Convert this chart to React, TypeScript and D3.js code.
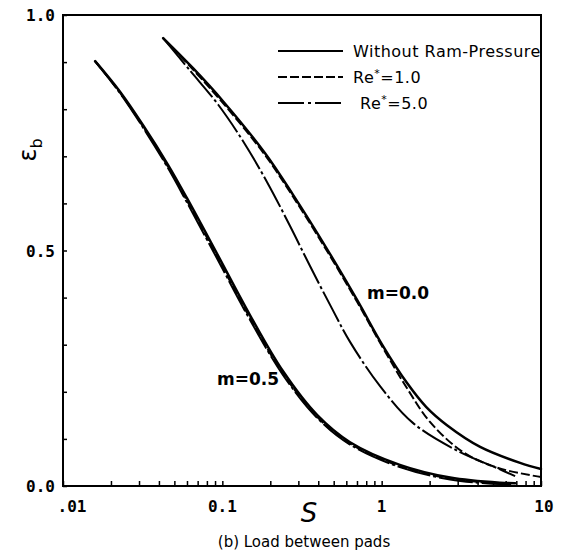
import React, { useRef, useEffect } from 'react';
import * as d3 from 'd3';

// [S, eps_b]
const m0NoRam: [number, number][] = [
  [0.0425, 0.951], [0.0655, 0.887], [0.101, 0.817], [0.185, 0.707], [0.278, 0.618],
  [0.454, 0.503], [0.701, 0.395], [1.02, 0.297], [1.44, 0.219], [1.9, 0.168],
  [2.57, 0.129], [4.15, 0.083], [7.39, 0.049], [10, 0.036],
];
const m0Re1: [number, number][] = [
  [0.0425, 0.951], [0.0655, 0.884], [0.101, 0.813], [0.185, 0.703], [0.278, 0.614],
  [0.454, 0.499], [0.701, 0.391], [1.02, 0.293], [1.44, 0.208], [2.01, 0.136],
  [3.24, 0.072], [5.30, 0.039], [10, 0.019],
];
const m0Re5: [number, number][] = [
  [0.0425, 0.951], [0.0627, 0.882], [0.094, 0.810], [0.135, 0.732], [0.191, 0.645],
  [0.266, 0.552], [0.355, 0.467], [0.489, 0.376], [0.633, 0.306], [0.977, 0.212],
  [1.57, 0.134], [3.02, 0.074], [5.30, 0.038], [6.88, 0.021],
];
const m05NoRam: [number, number][] = [
  [0.0159, 0.902], [0.0228, 0.837], [0.0318, 0.766], [0.0456, 0.682], [0.06, 0.611],
  [0.0927, 0.493], [0.149, 0.363], [0.240, 0.244], [0.393, 0.151], [0.633, 0.093],
  [1.30, 0.045], [2.69, 0.018], [5.54, 0.007], [6.88, 0.006],
];
const m05Re1: [number, number][] = [
  [0.0159, 0.902], [0.0228, 0.835], [0.0318, 0.763], [0.0456, 0.678], [0.06, 0.606],
  [0.0927, 0.487], [0.149, 0.357], [0.240, 0.239], [0.393, 0.147], [0.633, 0.090],
  [1.30, 0.042], [2.69, 0.016], [5.54, 0.005], [6.5, 0.004],
];
const m05Re5: [number, number][] = [
  [0.0159, 0.902], [0.0228, 0.834], [0.0318, 0.761], [0.0456, 0.675], [0.06, 0.602],
  [0.0927, 0.483], [0.149, 0.353], [0.240, 0.236], [0.393, 0.145], [0.633, 0.088],
  [1.30, 0.040], [2.69, 0.014], [5.54, 0.004], [6.2, 0.004],
];

const xTickLabels = [
  { v: 0.01, t: '.01' }, { v: 0.1, t: '0.1' }, { v: 1, t: '1' }, { v: 10, t: '10' },
];
const yTickLabels = [
  { v: 0, t: '0.0' }, { v: 0.5, t: '0.5' }, { v: 1, t: '1.0' },
];

const series = [
  { data: m0NoRam, dash: null, width: 2.5 },
  { data: m0Re1, dash: '9,3', width: 2 },
  { data: m0Re5, dash: '34,3,3,3', width: 2 },
  { data: m05NoRam, dash: null, width: 2.5 },
  { data: m05Re1, dash: '9,3', width: 2 },
  { data: m05Re5, dash: '34,3,3,3', width: 2 },
];

const legendItems = [
  { label: 'Without Ram-Pressure', after: '', dash: null, sup: false, dx: 0 },
  { label: 'Re', after: '=1.0', dash: '9,3', sup: true, dx: 0 },
  { label: 'Re', after: '=5.0', dash: '26,4,3,4', sup: true, dx: 7 },
];

const App = () => {
  const svgRef = useRef<SVGSVGElement>(null);

  useEffect(() => {
    const width = 563;
    const height = 550;
    const left = 63, right = 541, top = 15, bottom = 486;

    const svg = d3.select(svgRef.current)
      .attr('width', width)
      .attr('height', height)
      .style('background', 'white');
    svg.selectAll('*').remove();

    const x = d3.scaleLog().domain([0.01, 10]).range([left, right]);
    const y = d3.scaleLinear().domain([0, 1]).range([bottom, top]);

    // frame
    svg.append('rect')
      .attr('x', left).attr('y', top)
      .attr('width', right - left).attr('height', bottom - top)
      .attr('fill', 'none').attr('stroke', 'black').attr('stroke-width', 2);

    // bottom ticks, inward
    const xAxis = d3.axisTop(x).tickValues(x.ticks()).tickSize(5).tickFormat(() => '');
    svg.append('g')
      .attr('transform', `translate(0,${bottom})`)
      .call(xAxis)
      .call(g => g.select('.domain').remove())
      .selectAll('line').attr('stroke-width', 1.5);

    // left ticks, inward
    const yAxis = d3.axisRight(y).ticks(10).tickSize(4).tickFormat(() => '');
    svg.append('g')
      .attr('transform', `translate(${left},0)`)
      .call(yAxis)
      .call(g => g.select('.domain').remove())
      .selectAll('line').attr('stroke-width', 1.5);

    xTickLabels.forEach(d => {
      svg.append('text')
        .attr('x', x(d.v) + (d.v === 0.01 ? 9 : d.v === 10 ? 3 : 0))
        .attr('y', 512)
        .attr('text-anchor', 'middle')
        .attr('font-family', 'DejaVu Sans Mono')
        .attr('font-weight', 'bold')
        .style('font-size', '16px')
        .text(d.t);
    });
    yTickLabels.forEach(d => {
      svg.append('text')
        .attr('x', 55)
        .attr('y', y(d.v) + 6)
        .attr('text-anchor', 'end')
        .attr('font-family', 'DejaVu Sans Mono')
        .attr('font-weight', 'bold')
        .style('font-size', '16px')
        .text(d.t);
    });

    // axis titles
    svg.append('text')
      .attr('x', 309).attr('y', 522)
      .attr('text-anchor', 'middle')
      .attr('font-family', 'DejaVu Sans')
      .attr('font-style', 'italic')
      .style('font-size', '26px')
      .text('S');
    svg.append('text')
      .attr('x', 304).attr('y', 547)
      .attr('text-anchor', 'middle')
      .attr('font-family', 'DejaVu Sans')
      .style('font-size', '15px')
      .text('(b) Load between pads');
    const yl = svg.append('text')
      .attr('transform', 'translate(36,150) rotate(-90)')
      .attr('text-anchor', 'middle')
      .attr('font-family', 'DejaVu Sans')
      .style('font-size', '24px');
    yl.append('tspan').text('ε');
    yl.append('tspan').attr('dy', 6).style('font-size', '16px').text('b');

    // curves
    const line = d3.line<[number, number]>()
      .x(d => x(d[0]))
      .y(d => y(d[1]))
      .curve(d3.curveCatmullRom.alpha(0.5));

    series.forEach(s => {
      const p = svg.append('path')
        .datum(s.data)
        .attr('fill', 'none')
        .attr('stroke', 'black')
        .attr('stroke-width', s.width)
        .attr('stroke-linecap', 'round')
        .attr('d', line);
      if (s.dash) p.attr('stroke-dasharray', s.dash).attr('stroke-linecap', 'butt');
    });

    // curve labels
    [{ t: 'm=0.0', x: 367, y: 299 }, { t: 'm=0.5', x: 217, y: 385 }].forEach(l => {
      svg.append('text')
        .attr('x', l.x).attr('y', l.y)
        .attr('font-family', 'DejaVu Sans')
        .attr('font-weight', 'bold')
        .style('font-size', '17px')
        .text(l.t);
    });

    // legend
    legendItems.forEach((item, i) => {
      const ly = 51 + i * 26;
      const ln = svg.append('line')
        .attr('x1', 278).attr('x2', 343)
        .attr('y1', ly).attr('y2', ly)
        .attr('stroke', 'black')
        .attr('stroke-width', 2);
      if (item.dash) ln.attr('stroke-dasharray', item.dash);
      const t = svg.append('text')
        .attr('x', 353 + item.dx).attr('y', ly + 6)
        .attr('font-family', 'DejaVu Sans')
        .attr('letter-spacing', 0.5)
        .style('font-size', '16px');
      t.append('tspan').text(item.label);
      if (item.sup) {
        t.append('tspan').attr('dy', -6).style('font-size', '11px').text('*');
        t.append('tspan').attr('dy', 6).text(item.after);
      }
    });
  }, []);

  return (
    <div style={{ position: 'absolute', left: 0, top: 0, width: 563, height: 550, background: 'white' }}>
      <svg ref={svgRef} style={{ display: 'block' }}></svg>
    </div>
  );
};

export default App;
